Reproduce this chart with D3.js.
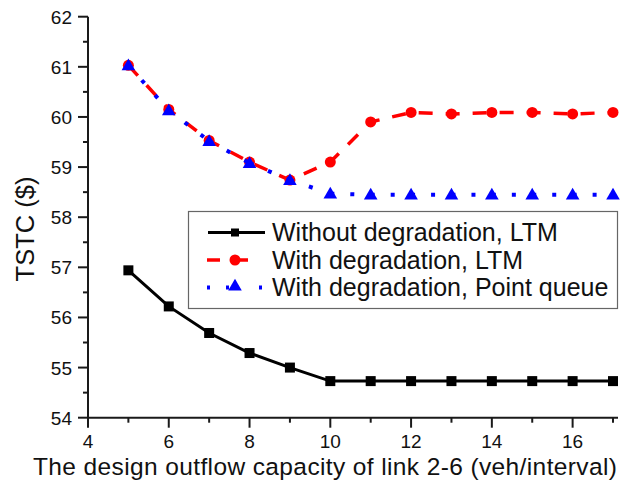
<!DOCTYPE html>
<html>
<head>
<meta charset="utf-8">
<script src="https://cdn.jsdelivr.net/npm/d3@7/dist/d3.min.js"></script>
<style>
  html, body { margin: 0; padding: 0; background: #fff; }
  svg { display: block; font-family: "Liberation Sans", Arial, Helvetica, sans-serif; }
</style>
</head>
<body>
<svg id="chart" width="626" height="489"></svg>
<script>
// Design outflow capacity of link 2-6 (veh/interval)
const capacity = [5, 6, 7, 8, 9, 10, 11, 12, 13, 14, 15, 16, 17];

// TSTC ($) for each scenario
const withoutDegLTM = [56.94, 56.22, 55.69, 55.29, 55.00, 54.73, 54.73, 54.73, 54.73, 54.73, 54.73, 54.73, 54.73];
const withDegLTM    = [61.03, 60.15, 59.53, 59.10, 58.74, 59.10, 59.90, 60.09, 60.06, 60.09, 60.09, 60.06, 60.09];
const withDegPQ     = [61.03, 60.13, 59.52, 59.08, 58.74, 58.47, 58.45, 58.45, 58.45, 58.45, 58.45, 58.45, 58.45];

const xTicks = [4, 6, 8, 10, 12, 14, 16];
const yTicks = [54, 55, 56, 57, 58, 59, 60, 61, 62];

const seriesNames = [
  "Without degradation, LTM",
  "With degradation, LTM",
  "With degradation, Point queue"
];

const svg = d3.select("#chart");

const x = d3.scaleLinear().domain([4, 17]).range([88, 613]);
const y = d3.scaleLinear().domain([54, 62]).range([417.7, 16.7]);

// ---- axes ----
const axisColor = "#1a1a1a";
const gx = svg.append("g").attr("transform", `translate(0,${y(54)})`);
gx.append("line").attr("x1", x(4) - 1).attr("x2", 618).attr("stroke", axisColor).attr("stroke-width", 2);
const xMinor = d3.range(5, 18, 2);
gx.selectAll(".xminor").data(xMinor).join("line")
  .attr("x1", d => x(d)).attr("x2", d => x(d)).attr("y1", 0).attr("y2", 5)
  .attr("stroke", axisColor).attr("stroke-width", 2);
gx.selectAll(".xmajor").data(xTicks).join("line")
  .attr("x1", d => x(d)).attr("x2", d => x(d)).attr("y1", 0).attr("y2", 10)
  .attr("stroke", axisColor).attr("stroke-width", 2);
gx.selectAll("text").data(xTicks).join("text")
  .attr("x", d => x(d)).attr("y", 30.8)
  .attr("text-anchor", "middle").attr("font-size", 19).attr("fill", "#111")
  .text(d => d);

const gy = svg.append("g").attr("transform", `translate(${x(4)},0)`);
gy.append("line").attr("y1", y(54) + 1).attr("y2", y(62)).attr("stroke", axisColor).attr("stroke-width", 2);
const yMinor = d3.range(54.5, 62, 1);
gy.selectAll(".yminor").data(yMinor).join("line")
  .attr("x1", 0).attr("x2", -5).attr("y1", d => y(d)).attr("y2", d => y(d))
  .attr("stroke", axisColor).attr("stroke-width", 2);
gy.selectAll(".ymajor").data(yTicks).join("line")
  .attr("x1", 0).attr("x2", -10).attr("y1", d => y(d)).attr("y2", d => y(d))
  .attr("stroke", axisColor).attr("stroke-width", 2);
gy.selectAll("text").data(yTicks).join("text")
  .attr("x", -16).attr("y", d => y(d) + 7)
  .attr("text-anchor", "end").attr("font-size", 19).attr("fill", "#111")
  .text(d => d);

// axis titles
svg.append("text")
  .attr("x", 325).attr("y", 475)
  .attr("text-anchor", "middle").attr("font-size", 24.5).attr("fill", "#111")
  .attr("textLength", 584).attr("lengthAdjust", "spacing")
  .text("The design outflow capacity of link 2-6 (veh/interval)");
svg.append("text")
  .attr("transform", "translate(34,229) rotate(-90)")
  .attr("text-anchor", "middle").attr("font-size", 25.5).attr("fill", "#111")
  .text("TSTC ($)");

// ---- series ----
const line = d3.line().x(d => x(d[0])).y(d => y(d[1]));
const pts = vals => capacity.map((c, i) => [c, vals[i]]);

const triangle = d3.symbol().type(d3.symbolTriangle).size(80);

// black solid with squares
svg.append("path").datum(pts(withoutDegLTM)).attr("d", line)
  .attr("fill", "none").attr("stroke", "#000").attr("stroke-width", 3);
svg.selectAll(".sq").data(pts(withoutDegLTM)).join("rect")
  .attr("x", d => x(d[0]) - 5).attr("y", d => y(d[1]) - 5)
  .attr("width", 10).attr("height", 10).attr("fill", "#000");

// red dashed with circles
svg.append("path").datum(pts(withDegLTM)).attr("d", line)
  .attr("fill", "none").attr("stroke", "#ff0000").attr("stroke-width", 3.5)
  .attr("stroke-dasharray", "14,13");
svg.selectAll(".ci").data(pts(withDegLTM)).join("circle")
  .attr("cx", d => x(d[0])).attr("cy", d => y(d[1])).attr("r", 5.5)
  .attr("fill", "#ff0000");

// blue dotted with triangles, one path per segment so dots sit between markers
const pq = pts(withDegPQ);
svg.selectAll(".pqseg").data(d3.pairs(pq)).join("path")
  .attr("d", d => line(d))
  .attr("fill", "none").attr("stroke", "#0000ff").attr("stroke-width", 4)
  .attr("stroke-dasharray", "4,16");
svg.selectAll(".tri").data(pq).join("path")
  .attr("transform", d => `translate(${x(d[0])},${y(d[1]) + 1})`)
  .attr("d", triangle).attr("fill", "#0000ff");

// ---- legend ----
const lg = svg.append("g");
lg.append("rect").attr("x", 188.5).attr("y", 211.5).attr("width", 429).attr("height", 97)
  .attr("fill", "#fff").attr("stroke", "#666").attr("stroke-width", 1.2);

const rowsY = [232.5, 260, 287.5];
// row 1
lg.append("line").attr("x1", 208).attr("x2", 265).attr("y1", rowsY[0]).attr("y2", rowsY[0])
  .attr("stroke", "#000").attr("stroke-width", 3);
lg.append("rect").attr("x", 231).attr("y", rowsY[0] - 4).attr("width", 8).attr("height", 8).attr("fill", "#000");
// row 2
lg.append("line").attr("x1", 207).attr("x2", 263).attr("y1", rowsY[1]).attr("y2", rowsY[1])
  .attr("stroke", "#ff0000").attr("stroke-width", 3.5).attr("stroke-dasharray", "13,15");
lg.append("circle").attr("cx", 235).attr("cy", rowsY[1]).attr("r", 5.5).attr("fill", "#ff0000");
// row 3
lg.append("line").attr("x1", 207).attr("x2", 263).attr("y1", rowsY[2]).attr("y2", rowsY[2])
  .attr("stroke", "#0000ff").attr("stroke-width", 4).attr("stroke-dasharray", "3,16,3,30,3");
lg.append("path").attr("transform", `translate(235,${rowsY[2] - 1})`)
  .attr("d", triangle).attr("fill", "#0000ff");

lg.selectAll(".lt").data(seriesNames).join("text")
  .attr("x", 272).attr("y", (d, i) => rowsY[i] + 8.5)
  .attr("font-size", 25).attr("fill", "#111")
  .text(d => d);
</script>
</body>
</html>
